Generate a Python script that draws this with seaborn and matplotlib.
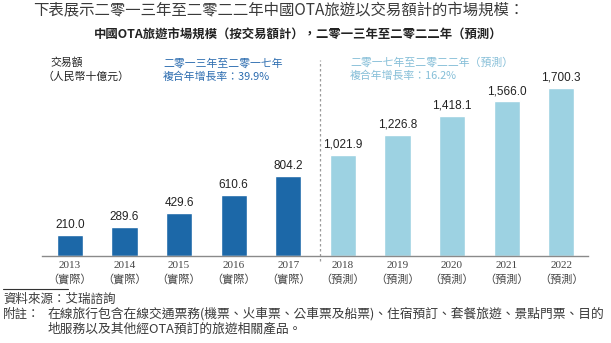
import matplotlib
matplotlib.use("Agg")
import matplotlib.pyplot as plt
import matplotlib.transforms as mtransforms
import seaborn as sns
import pandas as pd

years = ["2013", "2014", "2015", "2016", "2017", "2018", "2019", "2020", "2021", "2022"]
status = ["實際", "實際", "實際", "實際", "實際", "預測", "預測", "預測", "預測", "預測"]
values = [210.0, 289.6, 429.6, 610.6, 804.2, 1021.9, 1226.8, 1418.1, 1566.0, 1700.3]
period = ["actual"] * 5 + ["forecast"] * 5

intro_text = "下表展示二零一三年至二零二二年中國OTA旅遊以交易額計的市場規模："
title_text = "中國OTA旅遊市場規模（按交易額計），二零一三年至二零二二年（預測）"
unit_text = ["交易額", "（人民幣十億元）"]
cagr1_text = ["二零一三年至二零一七年", "複合年增長率：39.9%"]
cagr2_text = ["二零一七年至二零二二年（預測）", "複合年增長率：16.2%"]
source_text = "資料來源：艾瑞諮詢"
note_label = "附註："
note_lines = ["在線旅行包含在線交通票務(機票、火車票、公車票及船票)、住宿預訂、套餐旅遊、景點門票、目的",
              "地服務以及其他經OTA預訂的旅遊相關產品。"]

DARK = "#1c68a8"
LIGHT = "#9dd2e2"
CJK = "Noto Sans CJK TC"

sns.set_theme(style="white")
plt.rcParams["font.family"] = [CJK, "DejaVu Sans"]

df = pd.DataFrame({
    "label": [f"{y}\n（{s}）" for y, s in zip(years, status)],
    "value": values,
    "period": period,
})

fig = plt.figure(figsize=(6.11, 3.43), dpi=100)
ax = fig.add_axes([0.0687, 0.255, 0.8936, 0.570])

sns.barplot(data=df, x="label", y="value", hue="period",
            palette={"actual": DARK, "forecast": LIGHT},
            dodge=False, width=0.48, legend=False, ax=ax, saturation=1)

for cont in ax.containers:
    ax.bar_label(cont, labels=[f"{v:,.1f}" for v in cont.datavalues],
                 padding=3, fontsize=8.5, color="#222222",
                 family=["Liberation Sans", "DejaVu Sans"])

ax.set_xlim(-0.51, 9.49)
ax.set_ylim(0, 1985)
ax.set_xlabel("")
ax.set_ylabel("")
ax.set_yticks([])
for s in ["top", "right", "left"]:
    ax.spines[s].set_visible(False)
ax.spines["bottom"].set_color("#8a8a8a")
ax.spines["bottom"].set_linewidth(1.0)
ax.tick_params(axis="x", length=0, pad=4)
for t in ax.get_xticklabels():
    t.set_fontfamily(["Liberation Serif", CJK])
    t.set_fontsize(8)
    t.set_color("#444444")
    t.set_linespacing(1.45)

# dashed divider
trans = mtransforms.blended_transform_factory(ax.transData, ax.transAxes)
ax.plot([4.58, 4.58], [-0.03, 1.0], transform=trans, color="#9a9a9a",
        linestyle=(0, (2, 2)), linewidth=0.9, clip_on=False)

# texts
fig.text(33 / 611, 1 - 11 / 343, intro_text, fontsize=11.1, color="#3a3a3a",
         va="center", ha="left", fontweight="light")
fig.text(298 / 611, 1 - 35 / 343, title_text, fontsize=8.9, color="#222222",
         va="center", ha="center", fontweight="bold")
fig.text(50 / 611, 1 - 63 / 343, unit_text[0], fontsize=7.8, color="#222222",
         va="center", ha="left")
fig.text(42 / 611, 1 - 77 / 343, unit_text[1], fontsize=7.8, color="#222222",
         va="center", ha="left")
fig.text(163 / 611, 1 - 63 / 343, cagr1_text[0], fontsize=7.8, color="#2d6db0",
         va="center", ha="left")
fig.text(163 / 611, 1 - 77 / 343, cagr1_text[1], fontsize=7.8, color="#2d6db0",
         va="center", ha="left")
fig.text(350 / 611, 1 - 62 / 343, cagr2_text[0], fontsize=7.8, color="#86bfd8",
         va="center", ha="left")
fig.text(350 / 611, 1 - 76 / 343, cagr2_text[1], fontsize=7.8, color="#86bfd8",
         va="center", ha="left")

fig.add_artist(plt.Line2D([3 / 611, 68 / 611], [1 - 289 / 343, 1 - 289 / 343],
                          color="#333333", linewidth=0.8))
fig.text(3 / 611, 1 - 299 / 343, source_text, fontsize=9, color="#3a3a3a",
         va="center", ha="left", fontweight="light")
fig.text(3 / 611, 1 - 314 / 343, note_label, fontsize=9, color="#3a3a3a",
         va="center", ha="left", fontweight="light")
fig.text(48 / 611, 1 - 314 / 343, note_lines[0], fontsize=9.2, color="#3a3a3a",
         va="center", ha="left", fontweight="light")
fig.text(48 / 611, 1 - 329 / 343, note_lines[1], fontsize=9.2, color="#3a3a3a",
         va="center", ha="left", fontweight="light")

fig.savefig("out.png", dpi=100)
